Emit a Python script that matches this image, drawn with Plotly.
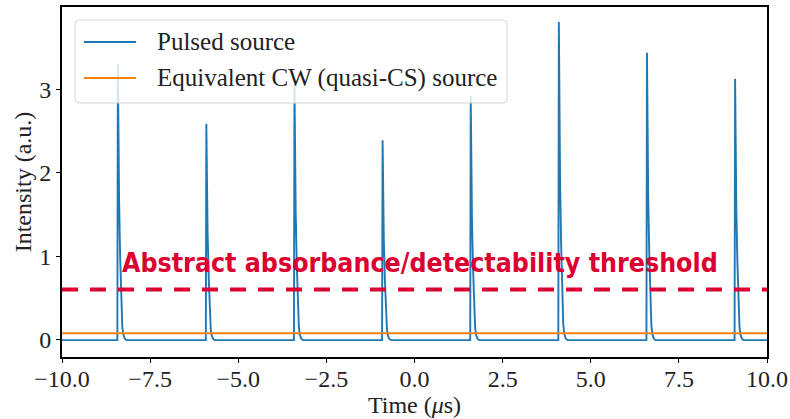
import plotly.graph_objects as go

# ---- data ----
pulse_times = [-8.43, -5.92, -3.42, -0.92, 1.58, 4.08, 6.58, 9.08]   # µs
pulse_heights = [3.30, 2.59, 3.05, 2.39, 2.92, 3.81, 3.44, 3.13]      # a.u.
# pulse profile (offset from pulse start in µs, fraction of peak)
profile_dt = [0.0, 0.015, 0.03, 0.05, 0.08, 0.105, 0.12, 0.14, 0.17, 0.21, 0.26]
profile_frac = [0.0, 1.0, 0.75, 0.5, 0.3, 0.18, 0.1, 0.05, 0.02, 0.005, 0.0]
baseline_level = -0.008
cw_level = 0.074
threshold_level = 0.60
x_range = [-10.0, 10.0]
y_range = [-0.21, 3.99]
x_ticks = [-10.0, -7.5, -5.0, -2.5, 0.0, 2.5, 5.0, 7.5, 10.0]
y_ticks = [0, 1, 2, 3]
series_names = ["Pulsed source", "Equivalent CW (quasi-CS) source"]
series_colors = ["#1f77b4", "#ff7f0e"]
threshold_label = "Abstract absorbance/detectability threshold"

# build pulsed trace
xs = [x_range[0]]
ys = [baseline_level]
for t0, h in zip(pulse_times, pulse_heights):
    for dt, f in zip(profile_dt, profile_frac):
        xs.append(t0 + dt)
        ys.append(baseline_level + f * (h - baseline_level))
xs.append(x_range[1])
ys.append(baseline_level)

serif = "Liberation Serif, Times New Roman, serif"
red = "#dc0030"

# plot-area geometry in pixels (for the hand-made legend box)
W, H = 790, 419
ML, MR, MT, MB = 62, 23, 7, 62
PW, PH = W - ML - MR, H - MT - MB


def px2paper(px, py):
    return (px - ML) / PW, (H - MB - py) / PH


fig = go.Figure()
fig.add_trace(go.Scatter(
    x=xs, y=ys, mode="lines", name=series_names[0], showlegend=False,
    line=dict(color=series_colors[0], width=1.9)))
fig.add_trace(go.Scatter(
    x=x_range, y=[cw_level, cw_level], mode="lines",
    name=series_names[1], showlegend=False,
    line=dict(color=series_colors[1], width=2)))
fig.add_trace(go.Scatter(
    x=x_range, y=[threshold_level, threshold_level], mode="lines",
    showlegend=False,
    line=dict(color=red, width=4, dash="16px,12px")))

fig.add_annotation(
    x=-8.34, y=0.725, xref="x", yref="y",
    text="<b>" + threshold_label + "</b>", showarrow=False,
    xanchor="left", yanchor="bottom", borderpad=0,
    font=dict(family="DejaVu Sans Condensed, Noto Sans, sans-serif",
              size=26.5, color=red))

# legend box (matplotlib style, rounded corners)
bx0, by0 = px2paper(75, 103)
bx1, by1 = px2paper(507, 20)
rx, ry = 4 / PW, 4 / PH
path = (f"M{bx0+rx},{by0} L{bx1-rx},{by0} Q{bx1},{by0} {bx1},{by0+ry} "
        f"L{bx1},{by1-ry} Q{bx1},{by1} {bx1-rx},{by1} "
        f"L{bx0+rx},{by1} Q{bx0},{by1} {bx0},{by1-ry} "
        f"L{bx0},{by0+ry} Q{bx0},{by0} {bx0+rx},{by0} Z")
shapes = [dict(type="path", path=path, xref="paper", yref="paper",
               fillcolor="rgba(255,255,255,0.8)",
               line=dict(color="#d6d6d6", width=1), layer="above")]
for name, col, py in zip(series_names, series_colors, [42, 78]):
    lx0, ly = px2paper(84, py)
    lx1, _ = px2paper(136, py)
    shapes.append(dict(type="line", xref="paper", yref="paper",
                       x0=lx0, x1=lx1, y0=ly, y1=ly,
                       line=dict(color=col, width=2), layer="above"))
    tx, ty = px2paper(155, py)
    fig.add_annotation(x=tx, y=ty, xref="paper", yref="paper", text=name,
                       showarrow=False, xanchor="left", yanchor="middle",
                       font=dict(family=serif, size=25, color="#222"))

fig.update_layout(
    width=W, height=H,
    margin=dict(l=ML, r=MR, t=MT, b=MB),
    paper_bgcolor="white", plot_bgcolor="white",
    font=dict(family=serif, size=24, color="#222"),
    showlegend=False, shapes=shapes,
)
fig.update_xaxes(
    range=x_range, tickvals=x_ticks,
    ticktext=[("−" if v < 0 else "") + f"{abs(v):.1f}" for v in x_ticks],
    showline=True, linecolor="black", linewidth=2, mirror=True,
    ticks="outside", ticklen=4, tickcolor="black", showgrid=False,
    zeroline=False, automargin=False, ticklabelstandoff=-5,
    title=dict(text="Time (<i>μ</i>s)", standoff=0, font=dict(size=24)))
fig.update_yaxes(
    range=y_range, tickvals=y_ticks, ticktext=[str(v) for v in y_ticks],
    showline=True, linecolor="black", linewidth=2, mirror=True,
    ticks="outside", ticklen=4, tickcolor="black", showgrid=False,
    zeroline=False, automargin=False,
    title=dict(text="Intensity (a.u.)", standoff=1, font=dict(size=24)))

fig.write_html("out.html", config={"displayModeBar": False},
               post_script="document.body.style.margin='0';"
                           "document.body.style.overflow='hidden';")
